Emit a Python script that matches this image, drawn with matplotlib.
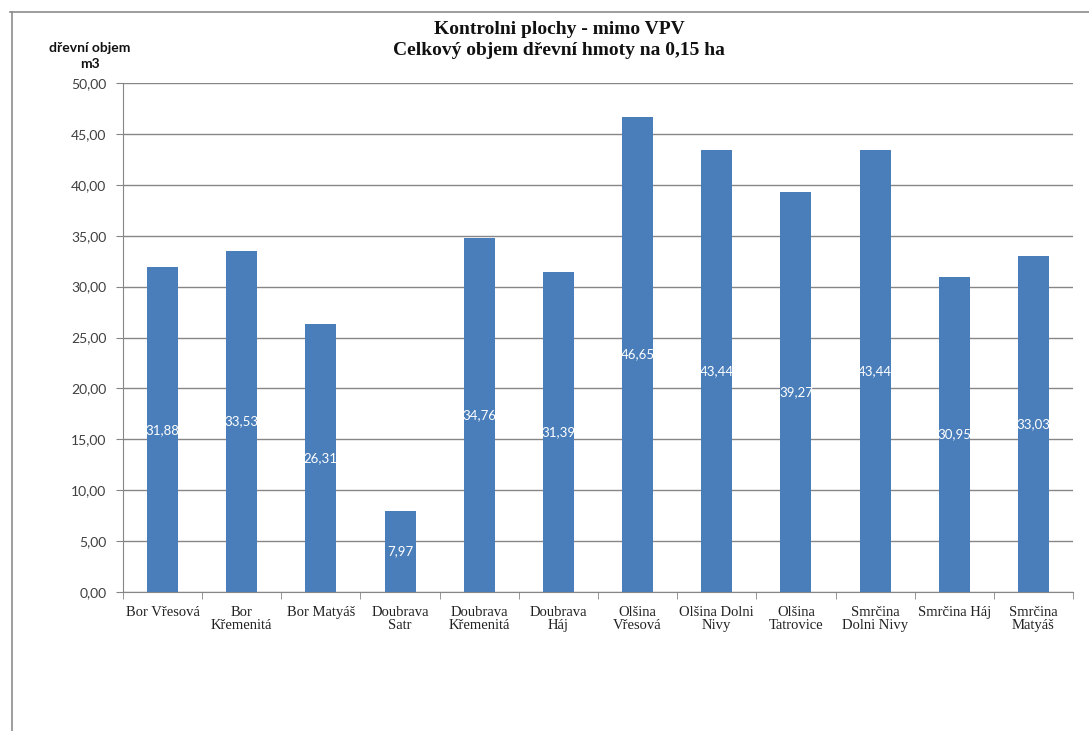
import matplotlib
matplotlib.use("Agg")
import matplotlib.pyplot as plt
from matplotlib.lines import Line2D
import numpy as np

categories = ["Bor Vřesová", "Bor\nKřemenitá", "Bor Matyáš", "Doubrava\nSatr",
              "Doubrava\nKřemenitá", "Doubrava\nHáj", "Olšina\nVřesová",
              "Olšina Dolni\nNivy", "Olšina\nTatrovice", "Smrčina\nDolni Nivy",
              "Smrčina Háj", "Smrčina\nMatyáš"]
values = [31.88, 33.53, 26.31, 7.97, 34.76, 31.39, 46.65, 43.44, 39.27, 43.44, 30.95, 33.03]
yticks = [0, 5, 10, 15, 20, 25, 30, 35, 40, 45, 50]

bar_color = "#4a7ebb"
grey = "#868686"
sans = ["Lato", "DejaVu Sans"]
serif = ["Liberation Serif", "DejaVu Serif"]

fig = plt.figure(figsize=(10.89, 7.31), dpi=100)
ax = fig.add_axes([123 / 1089, 1 - 592 / 731, 950 / 1089, 509 / 731])

x = np.arange(len(categories))
bars = ax.bar(x, values, width=0.39, color=bar_color, zorder=3)

for xi, v in zip(x, values):
    ax.text(xi, v / 2, f"{v:.2f}".replace(".", ","), ha="center", va="center",
            color="white", fontsize=9.5, family=sans, zorder=4)

ax.set_xlim(-0.5, len(categories) - 0.5)
ax.set_ylim(0, 50)
ax.set_yticks(yticks)
ax.set_yticklabels([f"{t:.2f}".replace(".", ",") for t in yticks],
                   family=sans, fontsize=10, color="#404040")
ax.yaxis.grid(True, color=grey, linewidth=1, zorder=0)
ax.tick_params(axis="y", length=5, color=grey, pad=7)

ax.set_xticks(x)
ax.set_xticklabels(categories, family=serif, fontsize=10.5, color="#222222",
                   linespacing=1.05)
ax.set_xticks(np.arange(-0.5, len(categories)), minor=True)
ax.tick_params(axis="x", which="major", length=0, pad=10)
ax.tick_params(axis="x", which="minor", length=5, color=grey)

for s in ["top", "right"]:
    ax.spines[s].set_visible(False)
for s in ["left", "bottom"]:
    ax.spines[s].set_color(grey)

fig.text(559 / 1089, 1 - 40 / 731,
         "Kontrolni plochy - mimo VPV\nCelkový objem dřevní hmoty na 0,15 ha",
         ha="center", va="center", family=serif, fontweight="bold",
         fontsize=14, linespacing=1.25, color="#111111")
fig.text(90 / 1089, 1 - 56 / 731, "dřevní objem\nm3", ha="center", va="center",
         family=sans, fontweight="bold", fontsize=10, linespacing=1.4,
         color="#111111")

# chart frame (top and left edges only visible)
fig.add_artist(Line2D([10 / 1089, 1], [1 - 12 / 731] * 2, color="#8c8c8c",
                      linewidth=1.2, transform=fig.transFigure))
fig.add_artist(Line2D([12 / 1089] * 2, [0, 1 - 12 / 731], color="#8c8c8c",
                      linewidth=1.2, transform=fig.transFigure))

fig.savefig("out.png", dpi=100)
